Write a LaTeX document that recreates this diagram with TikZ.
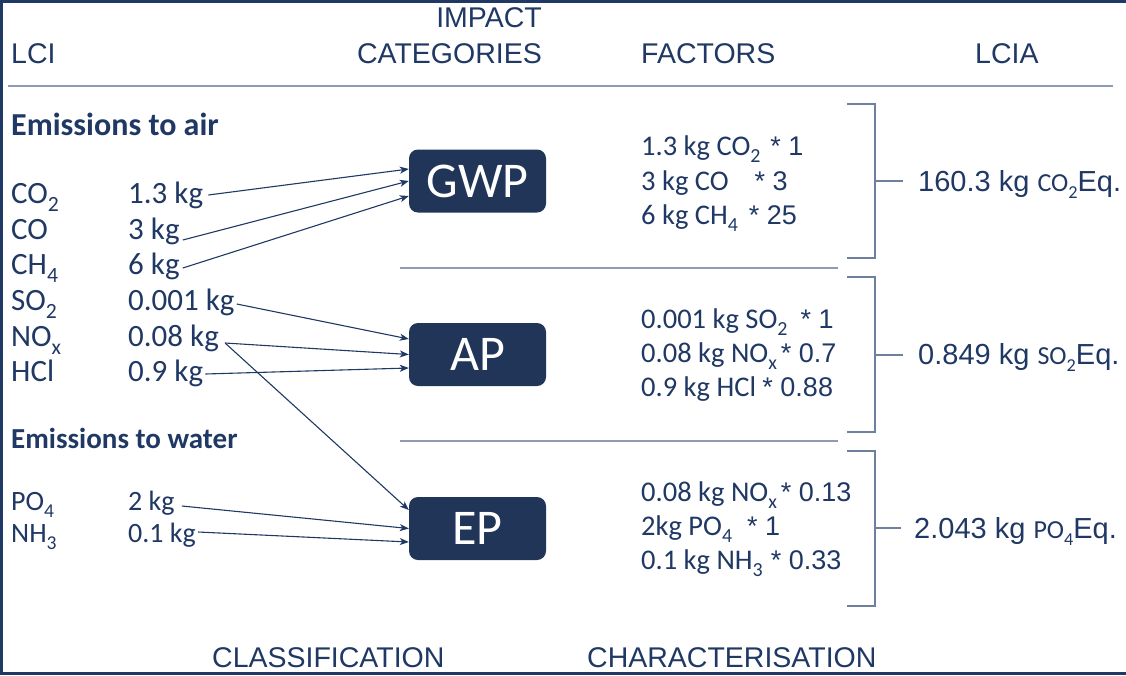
\documentclass[tikz,border=0pt]{standalone}
\usepackage{fontspec}
\setmainfont{Carlito}
\newfontfamily\arial{Liberation Sans}
\usetikzlibrary{arrows.meta}
\definecolor{navy}{HTML}{1F3864}
\definecolor{boxfill}{HTML}{213559}
\definecolor{sepgray}{HTML}{8E9BB2}
\definecolor{brk}{HTML}{6E809D}
\newcommand\lo[1]{\raisebox{-0.27em}{\scalebox{0.7}{#1}}}
\newcommand\fa[1]{{\arial\fontsize{27}{32}\selectfont #1}}
\begin{document}
\begin{tikzpicture}[x=1pt,y=-1pt,
  hdr/.style={font=\arial\fontsize{28.5}{34}\selectfont, text=navy, inner sep=0pt, anchor=base west},
  lbl/.style={font=\fontsize{31}{36}\selectfont, text=navy, inner sep=0pt, anchor=base west},
  wlbl/.style={font=\fontsize{28}{34}\selectfont, text=navy, inner sep=0pt, anchor=base west},
  sec/.style={font=\bfseries\fontsize{32}{38}\selectfont, text=navy, inner sep=0pt, anchor=base west},
  fac/.style={font=\fontsize{28.5}{34}\selectfont, text=navy, inner sep=0pt, anchor=base west},
  res/.style={font=\arial\fontsize{29}{34}\selectfont, text=navy, inner sep=0pt, anchor=base west},
  cat/.style={fill=boxfill, rounded corners=9pt, minimum width=137pt, minimum height=63pt, text=white, font=\fontsize{50}{60}\selectfont, inner sep=0pt},
  arr/.style={draw=navy, line width=1.1pt, -{Stealth[length=9pt,width=7pt,inset=2.5pt]}},
  sep/.style={draw=sepgray, line width=1.6pt},
  brack/.style={draw=brk, line width=1.5pt}
]
\useasboundingbox (0,0) rectangle (1126,675);
% frame
\draw[navy, line width=3pt] (1126,1.5) -- (1.5,1.5) -- (1.5,673.5) -- (1126,673.5);
% headers
\node[hdr] (lci) at (11,63) {LCI};
\node[hdr, anchor=base east] (imp1) at (542,27) {IMPACT};
\node[hdr, anchor=base east] (imp2) at (542,63) {CATEGORIES};
\node[hdr] (fact) at (641,63) {FACTORS};
\node[hdr] (lcia) at (975,63) {LCIA};
\node[hdr] (clas) at (212,667) {CLASSIFICATION};
\node[hdr] (char) at (587,667) {CHARACTERISATION};
\draw[sep] (8,86) -- (1113,86);
% sections
\node[sec] (sair) at (11,135) {Emissions to air};
\node[sec, font=\bfseries\fontsize{29}{35}\selectfont] (swat) at (11,448) {Emissions to water};
% air rows
\node[lbl] (n1) at (11,203) {CO\lo{2}};
\node[lbl] (a1) at (128,203) {1.3 kg};
\node[lbl] (n2) at (11,239) {CO};
\node[lbl] (a2) at (128,239) {3 kg};
\node[lbl] (n3) at (11,274) {CH\lo{4}};
\node[lbl] (a3) at (128,274) {6 kg};
\node[lbl] (n4) at (11,310) {SO\lo{2}};
\node[lbl] (a4) at (128,310) {0.001 kg};
\node[lbl] (n5) at (11,346) {NO\lo{x}};
\node[lbl] (a5) at (128,346) {0.08 kg};
\node[lbl] (n6) at (11,381) {HCl};
\node[lbl] (a6) at (128,381) {0.9 kg};
% water rows
\node[wlbl] (m1) at (11,510) {PO\lo{4}};
\node[wlbl] (w1) at (128,510) {2 kg};
\node[wlbl] (m2) at (11,542) {NH\lo{3}};
\node[wlbl] (w2) at (128,542) {0.1 kg};
% category boxes
\node[cat] (gwp) at (477.5,181) {GWP};
\node[cat] (ap) at (477.5,354.5) {AP};
\node[cat] (ep) at (477.5,528.5) {EP};
% arrows
\draw[arr] ([xshift=5pt,yshift=8pt]a1.base east) -- ([yshift=12pt]gwp.west);
\draw[arr] ([xshift=3pt,yshift=-1pt]a2.base east) -- (gwp.west);
\draw[arr] ([xshift=3pt,yshift=6pt]a3.base east) -- ([yshift=-15pt]gwp.west);
\draw[arr] ([xshift=2pt,yshift=6pt]a4.base east) -- ([yshift=15.5pt]ap.west);
\draw[arr] ([xshift=6pt,yshift=3pt]a5.base east) -- (ap.west);
\draw[arr] ([xshift=2pt,yshift=7pt]a6.base east) -- ([yshift=-13.5pt]ap.west);
\draw[arr] ([xshift=6pt,yshift=3pt]a5.base east) -- ([yshift=18.5pt]ep.west);
\draw[arr] ([xshift=7pt,yshift=4pt]w1.base east) -- (ep.west);
\draw[arr] ([xshift=2pt,yshift=10pt]w2.base east) -- ([yshift=-13.5pt]ep.west);
% separators
\draw[sep] (400,268) -- (838,268);
\draw[sep] (400,441) -- (838,441);
% factors
\node[fac] (f11) at (641,155) {1.3 kg CO\lo{2}\hspace{10pt}\fa{* 1}};
\node[fac] (f12) at (641,190) {3 kg CO\hspace{26pt}\fa{* 3}};
\node[fac] (f13) at (641,224) {6 kg CH\lo{4}\hspace{11pt}\fa{* 25}};
\node[fac] (f21) at (641,328) {0.001 kg SO\lo{2}\hspace{13pt}\fa{* 1}};
\node[fac] (f22) at (641,362) {0.08 kg NO\lo{x}\hspace{4pt}\fa{* 0.7}};
\node[fac] (f23) at (641,396) {0.9 kg HCl \fa{* 0.88}};
\node[fac] (f31) at (641,501) {0.08 kg NO\lo{x}\hspace{4pt}\fa{* 0.13}};
\node[fac] (f32) at (641,535) {2kg PO\lo{4}\hspace{15pt}\fa{* 1}};
\node[fac] (f33) at (641,569) {0.1 kg NH\lo{3}\hspace{8pt}\fa{* 0.33}};
% brackets
\coordinate (b1) at (875,181);
\coordinate (b2) at (875,355);
\coordinate (b3) at (875,528);
\draw[brack] (847,104) -- (875,104) -- (875,258) -- (847,258);
\draw[brack] (847,277) -- (875,277) -- (875,432) -- (847,432);
\draw[brack] (847,451) -- (875,451) -- (875,606) -- (847,606);
% results
\node[res] (r1) at (918,191) {160.3 kg {\rmfamily\fontsize{26}{30}\selectfont CO\lo{2}}Eq.};
\node[res] (r2) at (918,364) {0.849 kg {\rmfamily\fontsize{26}{30}\selectfont SO\lo{2}}Eq.};
\node[res] (r3) at (914,538) {2.043 kg {\rmfamily\fontsize{26}{30}\selectfont PO\lo{4}}Eq.};
\draw[brack] (b1) -- ++(28,0);
\draw[brack] (b2) -- ++(28,0);
\draw[brack] (b3) -- ++(26,0);
\end{tikzpicture}
\end{document}
